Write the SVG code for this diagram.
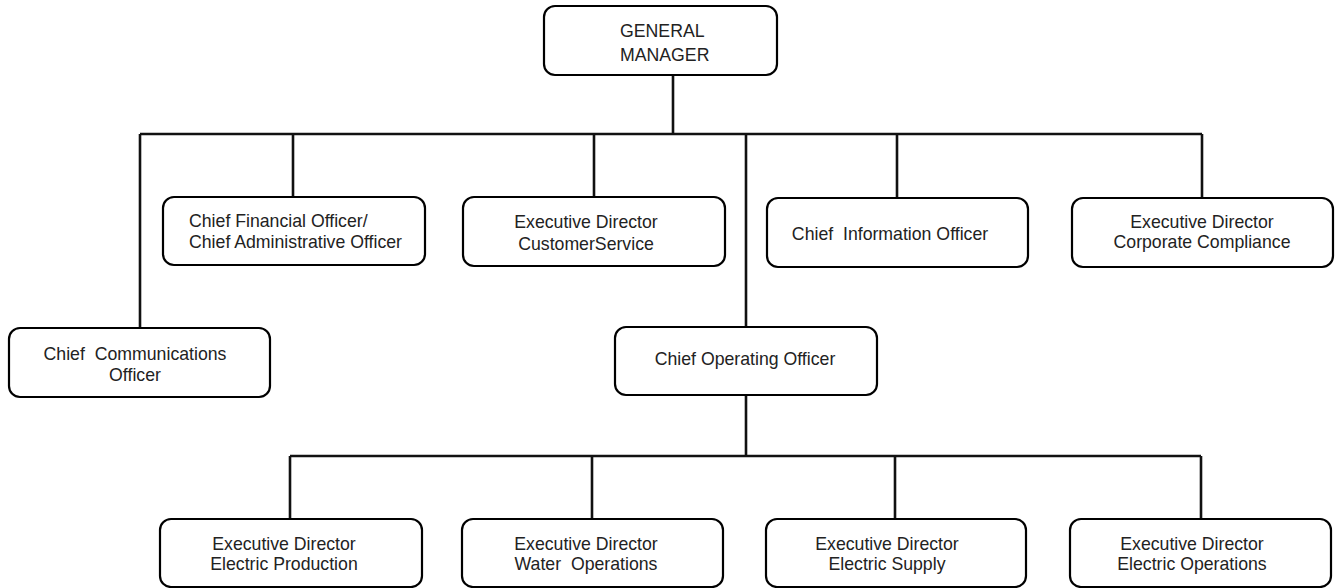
<svg xmlns="http://www.w3.org/2000/svg" width="1336" height="588" viewBox="0 0 1336 588">
<style>
.box{fill:#fff;stroke:#000;stroke-width:2.2}
.t{font-family:"Liberation Sans",Arial,sans-serif;font-size:17.7px;fill:#222;text-anchor:middle}
.l{text-anchor:start}
.c{fill:none;stroke:#111;stroke-width:2.6}
</style>
<rect width="1336" height="588" fill="#fff"/>
<g id="connectors">
<path class="c" d="M673 75V134M140 134H1202M140 134V328M293 134V197M594 134V197M746 134V327M897 134V198M1202 134V198"/>
<path class="c" d="M746 395V456M290 456H1201M290 456V519M592 456V519M895 456V519M1201 456V519"/>
</g>
<g id="gm"><rect class="box" x="544" y="6" width="233" height="69" rx="11"/>
<text class="t l" x="620" y="37">GENERAL</text><text class="t l" x="620" y="61">MANAGER</text></g>
<g id="cfo"><rect class="box" x="163" y="197" width="262" height="68" rx="11"/>
<text class="t l" x="189" y="227">Chief Financial Officer/</text><text class="t l" x="189" y="248">Chief Administrative Officer</text></g>
<g id="edcs"><rect class="box" x="463" y="197" width="262" height="69" rx="11"/>
<text class="t" x="586" y="228">Executive Director</text><text class="t" x="586" y="250">CustomerService</text></g>
<g id="cio"><rect class="box" x="767" y="198" width="261" height="69" rx="11"/>
<text class="t" x="890" y="240" xml:space="preserve">Chief  Information Officer</text></g>
<g id="edcc"><rect class="box" x="1072" y="198" width="261" height="69" rx="11"/>
<text class="t" x="1202" y="228">Executive Director</text><text class="t" x="1202" y="248">Corporate Compliance</text></g>
<g id="cco"><rect class="box" x="9" y="328" width="261" height="69" rx="11"/>
<text class="t" x="135" y="360" xml:space="preserve">Chief  Communications</text><text class="t" x="135" y="381">Officer</text></g>
<g id="coo"><rect class="box" x="615" y="327" width="262" height="68" rx="11"/>
<text class="t" x="745" y="365">Chief Operating Officer</text></g>
<g id="edep"><rect class="box" x="160" y="519" width="262" height="68" rx="11"/>
<text class="t" x="284" y="550">Executive Director</text><text class="t" x="284" y="570">Electric Production</text></g>
<g id="edwo"><rect class="box" x="462" y="519" width="261" height="68" rx="11"/>
<text class="t" x="586" y="550">Executive Director</text><text class="t" x="586" y="570" xml:space="preserve">Water  Operations</text></g>
<g id="edes"><rect class="box" x="766" y="519" width="260" height="68" rx="11"/>
<text class="t" x="887" y="550">Executive Director</text><text class="t" x="887" y="570">Electric Supply</text></g>
<g id="edeo"><rect class="box" x="1070" y="519" width="261" height="68" rx="11"/>
<text class="t" x="1192" y="550">Executive Director</text><text class="t" x="1192" y="570">Electric Operations</text></g>
</svg>
